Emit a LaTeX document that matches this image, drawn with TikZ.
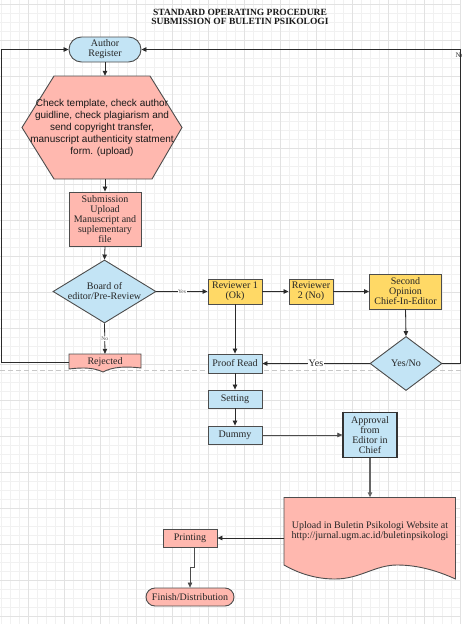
\documentclass[tikz,border=0pt]{standalone}
\usepackage{fontspec}
\setmainfont{Liberation Serif}
\newfontfamily\hexfont{Liberation Sans}
\usetikzlibrary{arrows.meta,shapes.geometric}
\definecolor{cblue}{HTML}{C3E4F5}
\definecolor{csalmon}{HTML}{FFB8AF}
\definecolor{cyellow}{HTML}{FFD966}
\definecolor{cborder}{HTML}{4D4D4D}
\definecolor{cline}{HTML}{2B2B2B}
\definecolor{gminor}{HTML}{F1F1F1}
\definecolor{gmajor}{HTML}{E2E2E2}
\definecolor{dashgray}{HTML}{C8C8C8}
\begin{document}
\begin{tikzpicture}[x=1pt,y=-1pt,
  nodefont/.style={font=\fontsize{10}{10}\selectfont},
  box/.style={draw=cborder, line width=0.9pt, inner sep=0pt, align=center, nodefont, text=black!85},
  txt/.style={inner sep=0pt, align=center, nodefont, text=black!85},
  shapeline/.style={draw=cborder, line width=0.9pt},
  arr/.style={draw=cline, line width=0.8pt, -{Triangle[length=5pt,width=4.5pt]}},
  lbl/.style={fill=white, inner sep=1pt, nodefont, text=black!85},
  tinylbl/.style={fill=white, inner sep=0.5pt, font=\fontsize{5.5}{6}\selectfont, text=black!70}]
\useasboundingbox (0,0) rectangle (461,624);
\fill[white] (0,0) rectangle (461,624);
% grid
\foreach \x in {1,10,...,460} \draw[gminor, line width=0.5pt] (\x,0) -- (\x,624);
\foreach \y in {4,13,...,620} \draw[gminor, line width=0.5pt] (0,\y) -- (461,\y);
\foreach \x in {28,64,...,460} \draw[gmajor, line width=0.7pt] (\x,0) -- (\x,624);
\foreach \y in {4,40,...,620} \draw[gmajor, line width=0.7pt] (0,\y) -- (461,\y);
% page break
\draw[dashgray, line width=1pt, dash pattern=on 5pt off 3pt] (0,370.5) -- (461,370.5);

% title
\node[inner sep=0pt, align=center, font=\bfseries\fontsize{9.5}{9}\selectfont, text=black!90] (title) at (240,16.5) {STANDARD OPERATING PROCEDURE\\SUBMISSION OF BULETIN PSIKOLOGI};

% nodes
\node[box, fill=cblue, minimum width=72pt, minimum height=25pt, rounded corners=12.5pt] (auth) at (105,49.5) {Author\\Register};

\path[shapeline, fill=csalmon] (54,76) -- (150,76) -- (182,127.5) -- (152,179) -- (54,179) -- (22,127.5) -- cycle;
\node[txt, font=\hexfont\fontsize{10}{12}\selectfont, text=black!90, minimum width=160pt, minimum height=103pt] (hex) at (102,127.5) {Check template, check author\\guidline, check plagiarism and\\send copyright transfer,\\manuscript authenticity statment\\form. (upload)};

\node[box, fill=csalmon, minimum width=72pt, minimum height=54pt] (sub) at (105,219) {Submission\\Upload\\Manuscript and\\suplementary\\file};

\node[diamond, shapeline, fill=cblue, minimum width=103pt, minimum height=63pt, inner sep=0pt] (board) at (104.5,291.5) {};
\node[txt] (boardt) at (board) {Board of\\editor/Pre-Review};

\node[box, fill=cyellow, minimum width=54pt, minimum height=25pt] (rev1) at (235,291.5) {Reviewer 1\\(Ok)};
\node[box, fill=cyellow, minimum width=44pt, minimum height=25pt] (rev2) at (311,291.5) {Reviewer\\2 (No)};
\node[box, fill=cyellow, minimum width=72pt, minimum height=35pt] (sec) at (405.5,291.5) {Second\\Opinion\\Chief-In-Editor};

\node[diamond, shapeline, fill=cblue, minimum width=72pt, minimum height=54pt, inner sep=0pt] (yn) at (406,363.5) {};
\node[txt] (ynt) at (yn) {Yes/No};

\path[shapeline, fill=csalmon] (69,354) -- (141,354) -- (141,368) .. controls (125,366) and (112,367) .. (103,372) .. controls (95,368) and (84,367) .. (69,369) -- cycle;
\node[txt, minimum width=72pt, minimum height=17pt] (rej) at (105,362.5) {Rejected};

\node[box, fill=cblue, minimum width=54pt, minimum height=19pt] (proof) at (235,363.5) {Proof Read};
\node[box, fill=cblue, minimum width=54pt, minimum height=18pt] (set) at (235,399) {Setting};
\node[box, fill=cblue, minimum width=54pt, minimum height=18pt] (dummy) at (235,435) {Dummy};
\node[box, fill=cblue, line width=1.3pt, draw=black!80, minimum width=54pt, minimum height=45pt] (appr) at (370,435) {Approval\\from\\Editor in\\Chief};

\path[shapeline, fill=csalmon] (284,497.5) -- (455.5,497.5) -- (455.5,579) .. controls (440,572) and (420,565) .. (397,565) .. controls (375,565) and (360,579) .. (335,579) .. controls (315,579) and (298,573) .. (284,565) -- cycle;
\node[txt, minimum width=171pt, minimum height=67pt] (upload) at (370,531) {Upload in Buletin Psikologi Website at\\http://jurnal.ugm.ac.id/buletinpsikologi};

\node[box, fill=csalmon, minimum width=54pt, minimum height=18pt] (print) at (190,538) {Printing};
\node[box, fill=csalmon, minimum width=88pt, minimum height=18pt, rounded corners=9pt] (fin) at (190,597) {Finish/Distribution};

% connectors
\draw[arr] (auth.south) -- (auth.south |- hex.north);
\draw[arr] (sub.north |- hex.south) -- (sub.north);
\draw[arr] (sub.south) -- (board.north);
\draw[arr] (board.east) -- node[tinylbl] {Yes} (rev1.west);
\draw[arr] (rev1.east) -- (rev2.west);
\draw[arr] (rev2.east) -- (sec.west);
\draw[arr] (sec.south) -- (yn.north);
\draw[arr] (yn.west) -- node[lbl] {Yes} (proof.east);
\draw[arr] (yn.east) -- ++(18,0) |- (auth.east);
\node[anchor=west, inner sep=0pt, font=\fontsize{7}{7}\selectfont, text=black!80] (nolbl) at (455.5,55.5) {No};
\draw[arr] (board.south) -- node[tinylbl] {No} (rej.north);
\draw[arr] (rej.west) -- ++(-67,0) |- (auth.west);
\draw[arr] (rev1.south) -- (proof.north);
\draw[arr] (proof.south) -- (set.north);
\draw[arr] (set.south) -- (dummy.north);
\draw[arr, line width=0.6pt, draw=black!70] (dummy.east) -- (appr.west);
\draw[arr, line width=1.2pt, draw=black!60] (appr.south) -- (upload.north);
\draw[arr] (upload.west |- print.east) -- (print.east);
\draw[arr, line width=0.6pt, draw=black!70] ([xshift=4pt]print.south) -- ++(0,20) -| (fin.north);
\end{tikzpicture}
\end{document}
